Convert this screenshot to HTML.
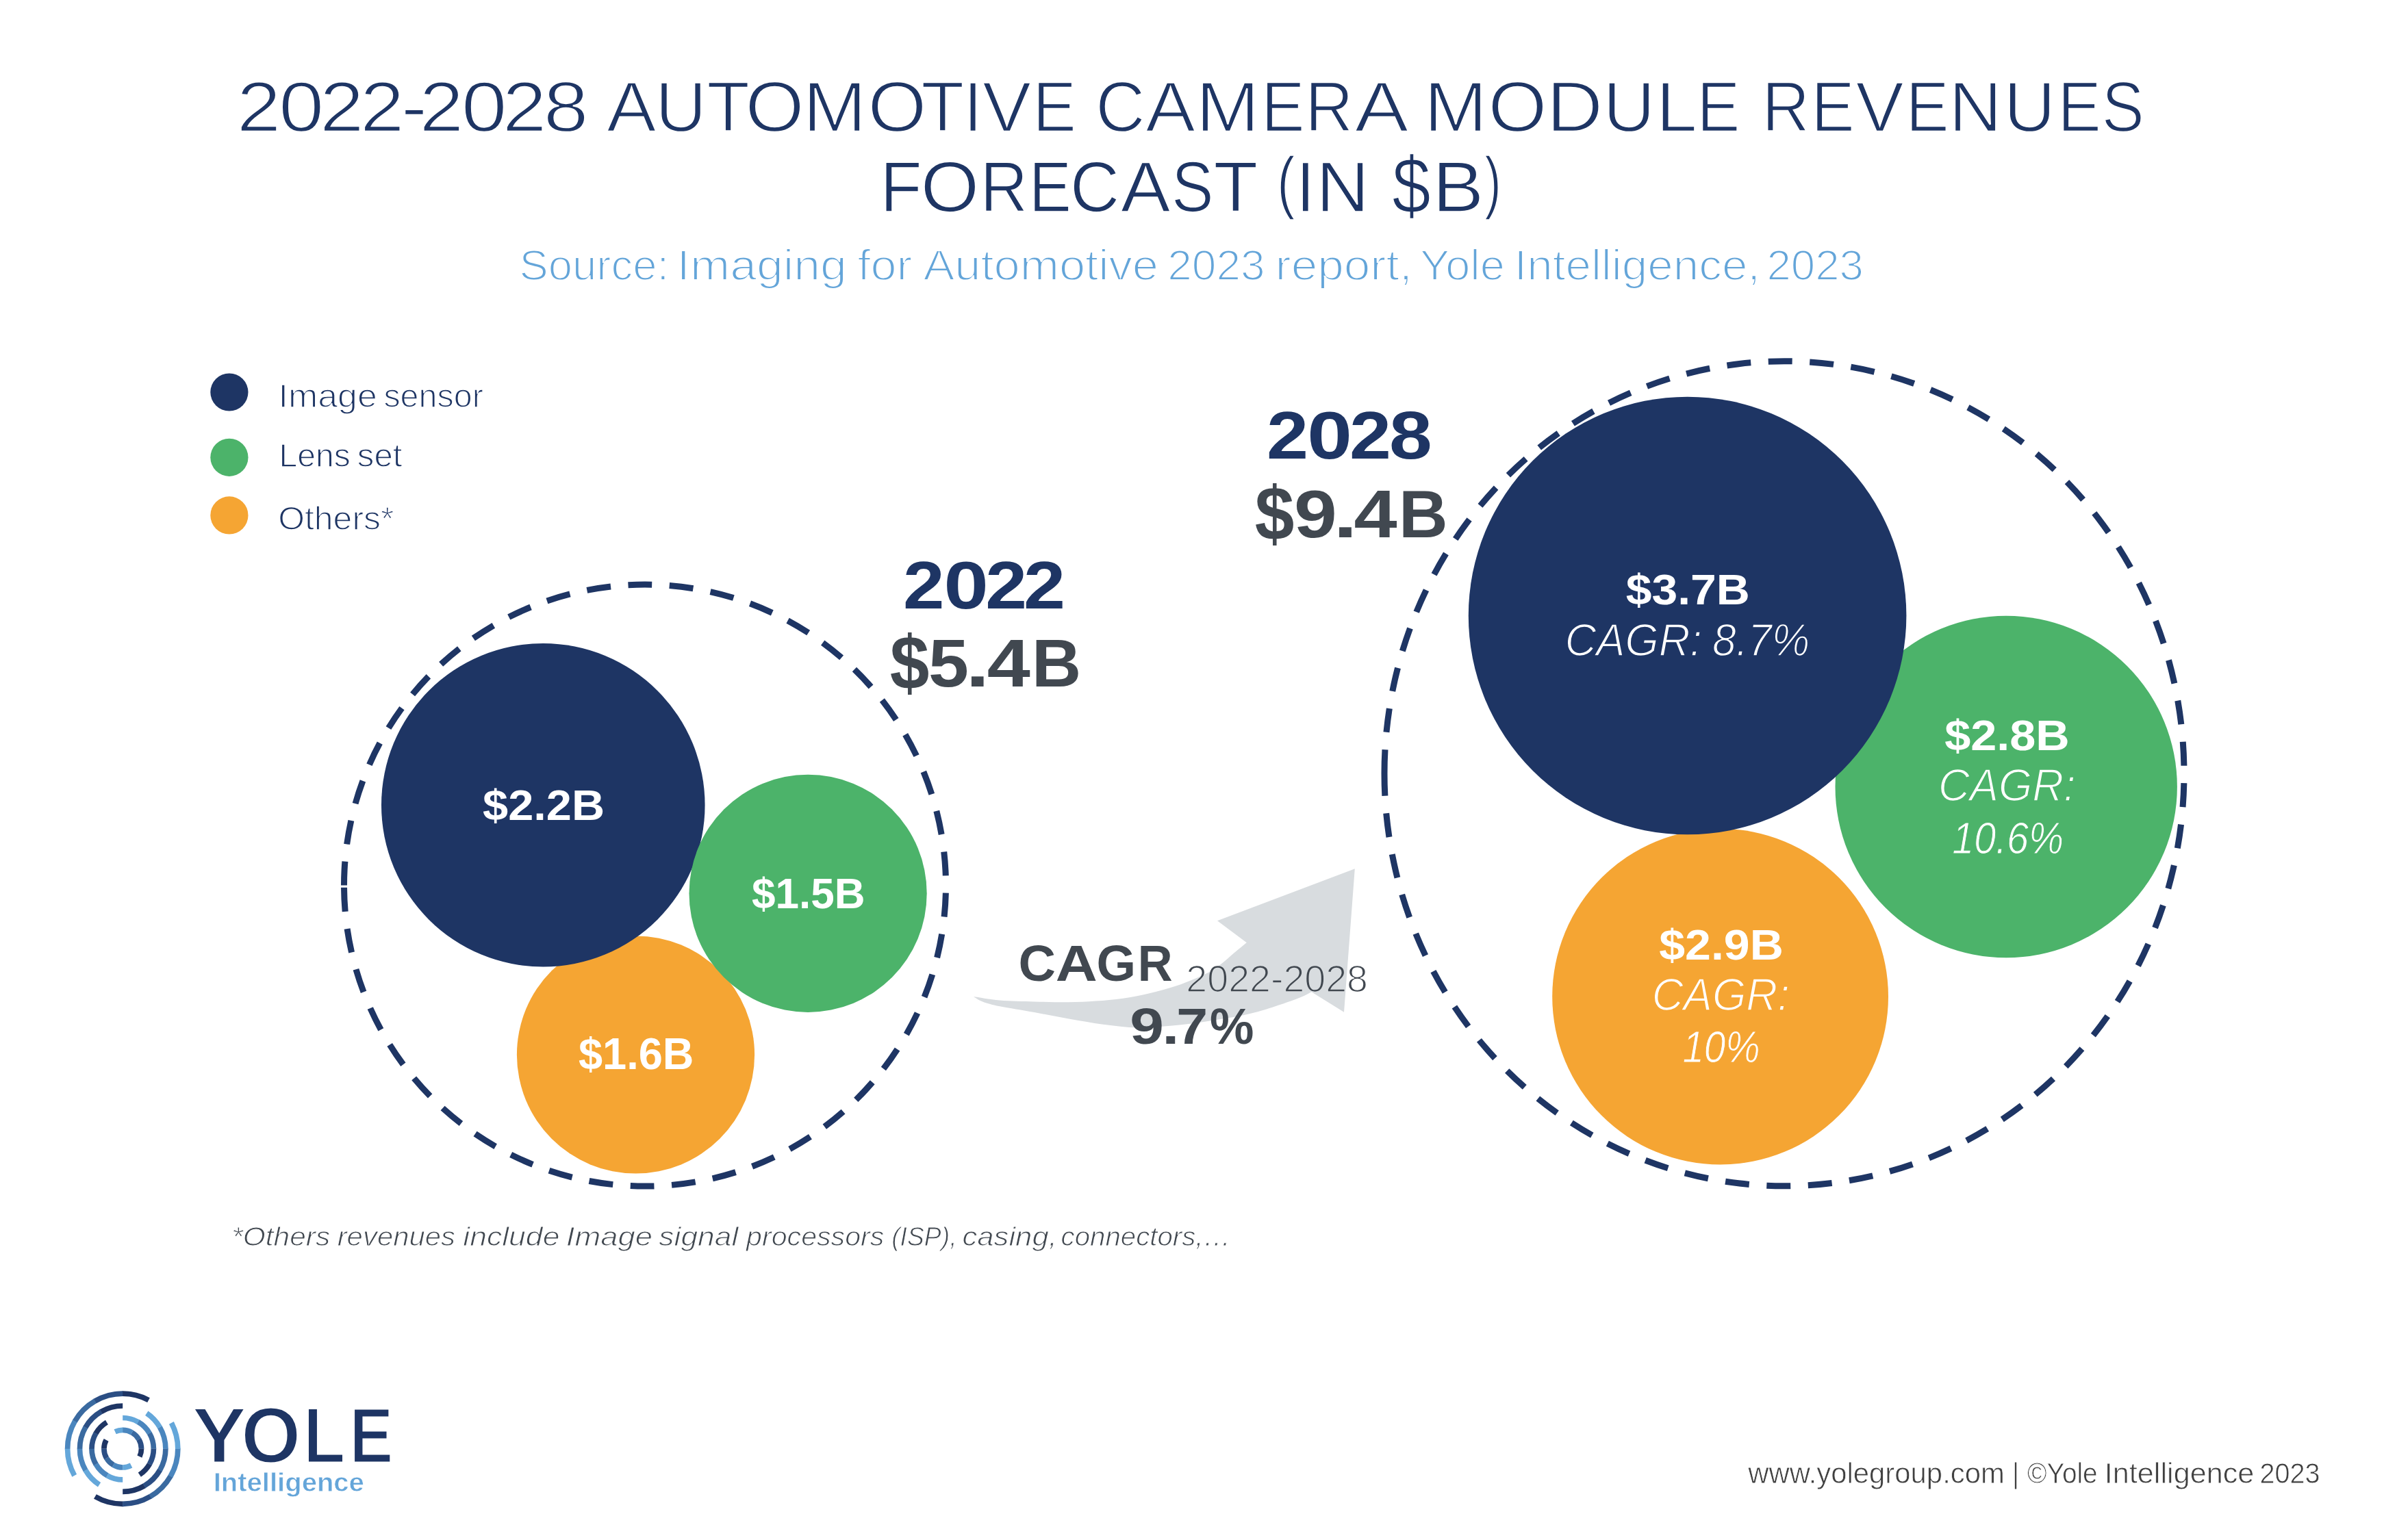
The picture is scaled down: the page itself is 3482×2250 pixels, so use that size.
<!DOCTYPE html>
<html><head><meta charset="utf-8"><title>2022-2028 Automotive Camera Module Revenues Forecast (in $B)</title>
<style>html,body{margin:0;padding:0;background:#fff;}body{width:3482px;height:2250px;font-family:"Liberation Sans",Arial,sans-serif;}svg{display:block;will-change:transform;}</style>
</head><body>
<svg width="3482" height="2250" viewBox="0 0 3482 2250" font-family="'Liberation Sans', Arial, sans-serif"><defs><g id="bg"><rect width="3482" height="2250" fill="#FFFFFF"/>
<circle cx="334.9" cy="573.0" r="27.6" fill="#1E3564"/>
<circle cx="334.9" cy="668.3" r="27.6" fill="#4CB36A"/>
<circle cx="334.9" cy="752.9" r="27.6" fill="#F5A533"/>
<circle cx="928.5" cy="1541.0" r="173.6" fill="#F5A533"/>
<circle cx="793.3" cy="1176.3" r="236.3" fill="#1E3564"/>
<circle cx="1180.1" cy="1305.3" r="173.6" fill="#4CB36A"/>
<path d="M502.50,1293.60 A439.50,439.50 0 1 1 1381.50,1293.60 A439.50,439.50 0 1 1 502.50,1293.60" fill="none" stroke="#1E3564" stroke-width="9" stroke-dasharray="35 25.5"/>
<circle cx="2512.6" cy="1456.1" r="245.4" fill="#F5A533"/>
<circle cx="2930.2" cy="1149.5" r="249.7" fill="#4CB36A"/>
<circle cx="2464.6" cy="899.5" r="319.8" fill="#1E3564"/>
<path d="M2022.00,1130.25 A584.00,602.50 0 1 1 3190.00,1130.25 A584.00,602.50 0 1 1 2022.00,1130.25" fill="none" stroke="#1E3564" stroke-width="9" stroke-dasharray="35 25.57"/>
<path d="M1421.8,1455.9 C1428.2,1456.8 1445.5,1460.2 1460.3,1461.5 C1475.1,1462.8 1494.1,1462.9 1510.7,1463.4 C1527.3,1463.9 1545.1,1464.4 1560.0,1464.3 C1574.9,1464.2 1587.0,1463.5 1600.3,1462.6 C1613.6,1461.7 1626.9,1460.6 1640.0,1458.7 C1653.1,1456.8 1665.7,1454.5 1679.0,1451.3 C1692.3,1448.1 1706.2,1444.6 1720.0,1439.8 C1733.8,1435.0 1751.2,1427.5 1761.6,1422.5 C1772.0,1417.5 1775.4,1414.6 1782.3,1409.5 C1789.2,1404.4 1796.7,1397.2 1803.1,1391.8 C1809.5,1386.4 1817.8,1379.7 1820.8,1377.3 L1778.0,1345.2 L1978.8,1269.3 L1963.0,1478.8 L1915.5,1449.2 C1911.5,1451.0 1906.2,1455.0 1891.7,1460.2 C1877.2,1465.4 1849.8,1475.0 1828.8,1480.3 C1807.8,1485.5 1785.3,1488.7 1765.8,1491.7 C1746.3,1494.8 1729.3,1497.0 1712.0,1498.6 C1694.7,1500.2 1678.5,1501.8 1661.7,1501.5 C1644.9,1501.2 1628.1,1499.0 1611.3,1496.8 C1594.5,1494.6 1577.8,1491.5 1561.0,1488.6 C1544.2,1485.6 1527.5,1482.1 1510.7,1479.1 C1493.9,1476.0 1472.9,1472.9 1460.3,1470.3 C1447.7,1467.7 1441.6,1465.8 1435.2,1463.4 C1428.8,1461.0 1424.0,1457.2 1421.8,1455.9 Z" fill="#D8DCDF"/>
<g fill="none" stroke-width="7.7"><path d="M217.04,2045.53 A80.60,80.60 0 0 0 178.78,2036.10" stroke="#1E3564"/><path d="M179.20,2036.10 A80.60,80.60 0 0 0 138.54,2047.11" stroke="#2B4E84"/><path d="M138.90,2046.90 A80.60,80.60 0 0 0 109.19,2076.77" stroke="#3A6AA0"/><path d="M109.40,2076.40 A80.60,80.60 0 0 0 98.60,2117.12" stroke="#4A86BE"/><path d="M98.60,2116.70 A80.60,80.60 0 0 0 108.71,2155.78" stroke="#64A7DA"/><path d="M138.90,2186.50 A80.60,80.60 0 0 0 179.62,2197.30" stroke="#1E3564"/><path d="M179.20,2197.30 A80.60,80.60 0 0 0 219.86,2186.29" stroke="#2B4E84"/><path d="M219.50,2186.50 A80.60,80.60 0 0 0 249.21,2156.63" stroke="#3A6AA0"/><path d="M249.00,2157.00 A80.60,80.60 0 0 0 259.80,2116.28" stroke="#4A86BE"/><path d="M259.80,2116.70 A80.60,80.60 0 0 0 250.37,2078.86" stroke="#64A7DA"/><path d="M179.20,2054.00 A62.70,62.70 0 0 0 147.57,2062.57" stroke="#1E3564"/><path d="M147.85,2062.40 A62.70,62.70 0 0 0 124.74,2085.63" stroke="#2B4E84"/><path d="M124.90,2085.35 A62.70,62.70 0 0 0 116.50,2117.03" stroke="#3A6AA0"/><path d="M116.50,2116.70 A62.70,62.70 0 0 0 125.07,2148.33" stroke="#4A86BE"/><path d="M124.90,2148.05 A62.70,62.70 0 0 0 145.05,2169.28" stroke="#64A7DA"/><path d="M179.20,2179.40 A62.70,62.70 0 0 0 210.83,2170.83" stroke="#1E3564"/><path d="M210.55,2171.00 A62.70,62.70 0 0 0 233.66,2147.77" stroke="#2B4E84"/><path d="M233.50,2148.05 A62.70,62.70 0 0 0 241.90,2116.37" stroke="#3A6AA0"/><path d="M241.90,2116.70 A62.70,62.70 0 0 0 233.33,2085.07" stroke="#4A86BE"/><path d="M233.50,2085.35 A62.70,62.70 0 0 0 214.26,2064.72" stroke="#64A7DA"/><path d="M155.92,2077.96 A45.20,45.20 0 0 0 139.94,2094.31" stroke="#1E3564"/><path d="M140.06,2094.10 A45.20,45.20 0 0 0 134.00,2116.94" stroke="#2B4E84"/><path d="M134.00,2116.70 A45.20,45.20 0 0 0 140.17,2139.50" stroke="#3A6AA0"/><path d="M140.06,2139.30 A45.20,45.20 0 0 0 156.81,2155.96" stroke="#4A86BE"/><path d="M156.60,2155.84 A45.20,45.20 0 0 0 179.20,2161.90" stroke="#64A7DA"/><path d="M203.82,2154.61 A45.20,45.20 0 0 0 218.46,2139.09" stroke="#1E3564"/><path d="M218.34,2139.30 A45.20,45.20 0 0 0 224.40,2116.46" stroke="#2B4E84"/><path d="M224.40,2116.70 A45.20,45.20 0 0 0 218.23,2093.90" stroke="#3A6AA0"/><path d="M218.34,2094.10 A45.20,45.20 0 0 0 201.59,2077.44" stroke="#4A86BE"/><path d="M201.80,2077.56 A45.20,45.20 0 0 0 179.20,2071.50" stroke="#64A7DA"/><path d="M203.94,2128.24 A27.30,27.30 0 0 0 206.50,2116.56" stroke="#1E3564"/><path d="M206.50,2116.70 A27.30,27.30 0 0 0 202.77,2102.93" stroke="#2B4E84"/><path d="M202.84,2103.05 A27.30,27.30 0 0 0 192.73,2092.99" stroke="#3A6AA0"/><path d="M192.85,2093.06 A27.30,27.30 0 0 0 179.06,2089.40" stroke="#4A86BE"/><path d="M179.20,2089.40 A27.30,27.30 0 0 0 168.10,2091.76" stroke="#64A7DA"/><path d="M155.10,2103.88 A27.30,27.30 0 0 0 151.90,2116.84" stroke="#1E3564"/><path d="M151.90,2116.70 A27.30,27.30 0 0 0 155.63,2130.47" stroke="#2B4E84"/><path d="M155.56,2130.35 A27.30,27.30 0 0 0 165.67,2140.41" stroke="#3A6AA0"/><path d="M165.55,2140.34 A27.30,27.30 0 0 0 179.34,2144.00" stroke="#4A86BE"/><path d="M179.20,2144.00 A27.30,27.30 0 0 0 191.59,2141.02" stroke="#64A7DA"/></g></g><pattern id="bgp" patternUnits="userSpaceOnUse" x="0" y="0" width="3482" height="2250"><use href="#bg"/></pattern></defs><use href="#bg"/>
<text y="192.04" font-size="104.05" fill="#1E3564" stroke="url(#bgp)" stroke-width="2.28"><tspan x="345.86" textLength="64.54" lengthAdjust="spacingAndGlyphs">2</tspan><tspan x="406.98" textLength="66.38" lengthAdjust="spacingAndGlyphs">0</tspan><tspan x="467.06" textLength="64.54" lengthAdjust="spacingAndGlyphs">2</tspan><tspan x="525.96" textLength="64.54" lengthAdjust="spacingAndGlyphs">2</tspan><tspan x="586.10" textLength="37.94" lengthAdjust="spacingAndGlyphs">-</tspan><tspan x="612.63" textLength="64.78" lengthAdjust="spacingAndGlyphs">2</tspan><tspan x="673.75" textLength="66.95" lengthAdjust="spacingAndGlyphs">0</tspan><tspan x="733.74" textLength="64.66" lengthAdjust="spacingAndGlyphs">2</tspan><tspan x="793.73" textLength="65.79" lengthAdjust="spacingAndGlyphs">8</tspan> <tspan x="886.06" textLength="72.66" lengthAdjust="spacingAndGlyphs">A</tspan><tspan x="957.33" textLength="74.56" lengthAdjust="spacingAndGlyphs">U</tspan><tspan x="1032.30" textLength="62.78" lengthAdjust="spacingAndGlyphs">T</tspan><tspan x="1088.44" textLength="85.99" lengthAdjust="spacingAndGlyphs">O</tspan><tspan x="1172.85" textLength="92.71" lengthAdjust="spacingAndGlyphs">M</tspan><tspan x="1267.45" textLength="85.77" lengthAdjust="spacingAndGlyphs">O</tspan><tspan x="1345.20" textLength="63.00" lengthAdjust="spacingAndGlyphs">T</tspan><tspan x="1407.45" textLength="27.18" lengthAdjust="spacingAndGlyphs">I</tspan><tspan x="1434.86" textLength="71.56" lengthAdjust="spacingAndGlyphs">V</tspan><tspan x="1508.45" textLength="63.40" lengthAdjust="spacingAndGlyphs">E</tspan> <tspan x="1600.15" textLength="72.31" lengthAdjust="spacingAndGlyphs">C</tspan><tspan x="1673.06" textLength="73.05" lengthAdjust="spacingAndGlyphs">A</tspan><tspan x="1746.75" textLength="92.71" lengthAdjust="spacingAndGlyphs">M</tspan><tspan x="1842.35" textLength="63.40" lengthAdjust="spacingAndGlyphs">E</tspan><tspan x="1906.17" textLength="70.27" lengthAdjust="spacingAndGlyphs">R</tspan><tspan x="1978.46" textLength="72.46" lengthAdjust="spacingAndGlyphs">A</tspan> <tspan x="2080.11" textLength="92.10" lengthAdjust="spacingAndGlyphs">M</tspan><tspan x="2173.44" textLength="85.88" lengthAdjust="spacingAndGlyphs">O</tspan><tspan x="2258.83" textLength="82.43" lengthAdjust="spacingAndGlyphs">D</tspan><tspan x="2341.52" textLength="75.68" lengthAdjust="spacingAndGlyphs">U</tspan><tspan x="2418.70" textLength="60.17" lengthAdjust="spacingAndGlyphs">L</tspan><tspan x="2478.51" textLength="62.92" lengthAdjust="spacingAndGlyphs">E</tspan> <tspan x="2573.44" textLength="69.67" lengthAdjust="spacingAndGlyphs">R</tspan><tspan x="2645.38" textLength="63.16" lengthAdjust="spacingAndGlyphs">E</tspan><tspan x="2710.36" textLength="70.66" lengthAdjust="spacingAndGlyphs">V</tspan><tspan x="2783.71" textLength="62.92" lengthAdjust="spacingAndGlyphs">E</tspan><tspan x="2846.34" textLength="77.77" lengthAdjust="spacingAndGlyphs">N</tspan><tspan x="2926.86" textLength="75.31" lengthAdjust="spacingAndGlyphs">U</tspan><tspan x="3005.45" textLength="63.40" lengthAdjust="spacingAndGlyphs">E</tspan><tspan x="3069.84" textLength="62.05" lengthAdjust="spacingAndGlyphs">S</tspan></text>
<text y="308.86" font-size="104.24" fill="#1E3564" stroke="url(#bgp)" stroke-width="1.72"><tspan x="1285.44" y="308.86" textLength="61.11" lengthAdjust="spacingAndGlyphs">F</tspan><tspan x="1344.86" y="308.86" textLength="85.24" lengthAdjust="spacingAndGlyphs">O</tspan><tspan x="1431.67" y="308.86" textLength="69.23" lengthAdjust="spacingAndGlyphs">R</tspan><tspan x="1503.02" y="308.86" textLength="61.87" lengthAdjust="spacingAndGlyphs">E</tspan><tspan x="1563.06" y="308.86" textLength="72.01" lengthAdjust="spacingAndGlyphs">C</tspan><tspan x="1637.04" y="308.86" textLength="72.39" lengthAdjust="spacingAndGlyphs">A</tspan><tspan x="1711.27" y="308.86" textLength="61.18" lengthAdjust="spacingAndGlyphs">S</tspan><tspan x="1772.48" y="308.86" textLength="62.82" lengthAdjust="spacingAndGlyphs">T</tspan> <tspan x="1865.35" y="299.57" font-size="100.44" textLength="26.05" lengthAdjust="spacingAndGlyphs">(</tspan><tspan x="1893.01" y="308.86" textLength="27.56" lengthAdjust="spacingAndGlyphs">I</tspan><tspan x="1922.59" y="308.86" textLength="77.18" lengthAdjust="spacingAndGlyphs">N</tspan> <tspan x="2033.33" y="311.35" font-size="116.36" textLength="56.37" lengthAdjust="spacingAndGlyphs">$</tspan><tspan x="2092.35" y="308.86" textLength="75.00" lengthAdjust="spacingAndGlyphs">B</tspan><tspan x="2168.54" y="299.57" font-size="100.44" textLength="24.05" lengthAdjust="spacingAndGlyphs">)</tspan></text>
<text y="408.80" font-size="62.07" fill="#64A5D9" stroke="url(#bgp)" stroke-width="2.00"><tspan x="758.46" textLength="218.61" lengthAdjust="spacingAndGlyphs">Source:</tspan> <tspan x="988.62" textLength="248.30" lengthAdjust="spacingAndGlyphs">Imaging</tspan> <tspan x="1252.62" textLength="79.67" lengthAdjust="spacingAndGlyphs">for</tspan> <tspan x="1348.40" textLength="343.59" lengthAdjust="spacingAndGlyphs">Automotive</tspan> <tspan x="1705.20" textLength="142.42" lengthAdjust="spacingAndGlyphs">2023</tspan> <tspan x="1862.54" textLength="200.46" lengthAdjust="spacingAndGlyphs">report,</tspan> <tspan x="2073.90" textLength="123.95" lengthAdjust="spacingAndGlyphs">Yole</tspan> <tspan x="2211.53" textLength="359.59" lengthAdjust="spacingAndGlyphs">Intelligence,</tspan> <tspan x="2580.42" textLength="141.59" lengthAdjust="spacingAndGlyphs">2023</tspan></text>
<text y="594.54" font-size="48.37" fill="#1E3564" stroke="url(#bgp)" stroke-width="1.48"><tspan x="406.59" textLength="144.22" lengthAdjust="spacingAndGlyphs">Image</tspan> <tspan x="560.39" textLength="145.48" lengthAdjust="spacingAndGlyphs">sensor</tspan></text>
<text y="681.66" font-size="48.14" fill="#1E3564" stroke="url(#bgp)" stroke-width="1.32"><tspan x="407.49" textLength="104.21" lengthAdjust="spacingAndGlyphs">Lens</tspan> <tspan x="521.86" textLength="65.50" lengthAdjust="spacingAndGlyphs">set</tspan></text>
<text y="774.43" font-size="48.34" fill="#1E3564" stroke="url(#bgp)" stroke-width="1.46"><tspan x="406.18" textLength="169.21" lengthAdjust="spacingAndGlyphs">Others*</tspan></text>
<text y="1198.00" font-size="63.66" fill="#FFFFFF" font-weight="700"><tspan x="705.03" textLength="178.08" lengthAdjust="spacingAndGlyphs">$2.2B</tspan></text>
<text y="1326.60" font-size="63.37" fill="#FFFFFF" font-weight="700"><tspan x="1097.98" textLength="165.64" lengthAdjust="spacingAndGlyphs">$1.5B</tspan></text>
<text y="1562.20" font-size="63.95" fill="#FFFFFF" font-weight="700"><tspan x="844.97" textLength="168.39" lengthAdjust="spacingAndGlyphs">$1.6B</tspan></text>
<text y="888.90" font-size="98.82" fill="#1E3564" font-weight="700"><tspan x="1319.04" textLength="60.50" lengthAdjust="spacingAndGlyphs">2</tspan><tspan x="1378.48" textLength="65.26" lengthAdjust="spacingAndGlyphs">0</tspan><tspan x="1439.22" textLength="60.84" lengthAdjust="spacingAndGlyphs">2</tspan><tspan x="1495.01" textLength="61.06" lengthAdjust="spacingAndGlyphs">2</tspan></text>
<text y="1002.80" font-size="98.84" fill="#414850" font-weight="700"><tspan x="1299.76" y="1007.14" font-size="110.85" textLength="57.57" lengthAdjust="spacingAndGlyphs">$</tspan><tspan x="1355.92" y="1002.80" textLength="58.95" lengthAdjust="spacingAndGlyphs">5</tspan><tspan x="1410.62" y="1002.80" textLength="34.64" lengthAdjust="spacingAndGlyphs">.</tspan><tspan x="1441.67" y="1002.80" textLength="63.10" lengthAdjust="spacingAndGlyphs">4</tspan><tspan x="1506.90" y="1002.80" textLength="72.22" lengthAdjust="spacingAndGlyphs">B</tspan></text>
<text y="669.70" font-size="98.53" fill="#1E3564" font-weight="700"><tspan x="1850.01" textLength="61.06" lengthAdjust="spacingAndGlyphs">2</tspan><tspan x="1909.16" textLength="65.60" lengthAdjust="spacingAndGlyphs">0</tspan><tspan x="1971.01" textLength="60.95" lengthAdjust="spacingAndGlyphs">2</tspan><tspan x="2029.12" textLength="62.73" lengthAdjust="spacingAndGlyphs">8</tspan></text>
<text y="785.00" font-size="99.13" fill="#414850" font-weight="700"><tspan x="1832.76" y="789.22" font-size="111.10" textLength="57.57" lengthAdjust="spacingAndGlyphs">$</tspan><tspan x="1889.91" y="785.00" textLength="62.77" lengthAdjust="spacingAndGlyphs">9</tspan><tspan x="1947.54" y="785.00" textLength="35.01" lengthAdjust="spacingAndGlyphs">.</tspan><tspan x="1977.57" y="785.00" textLength="63.10" lengthAdjust="spacingAndGlyphs">4</tspan><tspan x="2042.95" y="785.00" textLength="71.63" lengthAdjust="spacingAndGlyphs">B</tspan></text>
<text y="883.00" font-size="63.52" fill="#FFFFFF" font-weight="700"><tspan x="2374.82" textLength="181.04" lengthAdjust="spacingAndGlyphs">$3.7B</tspan></text>
<text y="957.79" font-size="66.24" fill="#FFFFFF" font-style="italic" stroke="url(#bgp)" stroke-width="1.57"><tspan x="2285.65" textLength="200.23" lengthAdjust="spacingAndGlyphs">CAGR:</tspan> <tspan x="2501.07" textLength="142.16" lengthAdjust="spacingAndGlyphs">8.7%</tspan></text>
<text y="1096.00" font-size="63.37" fill="#FFFFFF" font-weight="700"><tspan x="2840.22" textLength="182.57" lengthAdjust="spacingAndGlyphs">$2.8B</tspan></text>
<text y="1169.71" font-size="66.30" fill="#FFFFFF" font-style="italic" stroke="url(#bgp)" stroke-width="1.62"><tspan x="2831.02" textLength="200.58" lengthAdjust="spacingAndGlyphs">CAGR:</tspan></text>
<text y="1247.13" font-size="65.48" fill="#FFFFFF" font-style="italic" stroke="url(#bgp)" stroke-width="1.05"><tspan x="2851.23" textLength="162.75" lengthAdjust="spacingAndGlyphs">10.6%</tspan></text>
<text y="1402.00" font-size="63.37" fill="#FFFFFF" font-weight="700"><tspan x="2423.22" textLength="181.55" lengthAdjust="spacingAndGlyphs">$2.9B</tspan></text>
<text y="1475.72" font-size="66.33" fill="#FFFFFF" font-style="italic" stroke="url(#bgp)" stroke-width="1.63"><tspan x="2412.71" textLength="201.11" lengthAdjust="spacingAndGlyphs">CAGR:</tspan></text>
<text y="1552.29" font-size="65.38" fill="#FFFFFF" font-style="italic" stroke="url(#bgp)" stroke-width="0.98"><tspan x="2457.38" textLength="113.33" lengthAdjust="spacingAndGlyphs">10%</tspan></text>
<text y="1433.00" font-size="73.84" fill="#414850" font-weight="700"><tspan x="1487.58" textLength="54.49" lengthAdjust="spacingAndGlyphs">C</tspan><tspan x="1541.71" textLength="60.96" lengthAdjust="spacingAndGlyphs">A</tspan><tspan x="1601.64" textLength="57.54" lengthAdjust="spacingAndGlyphs">G</tspan><tspan x="1661.77" textLength="50.89" lengthAdjust="spacingAndGlyphs">R</tspan></text>
<text y="1448.74" font-size="54.97" fill="#414850" stroke="url(#bgp)" stroke-width="1.68"><tspan x="1732.38" textLength="265.57" lengthAdjust="spacingAndGlyphs">2022-2028</tspan></text>
<text y="1524.90" font-size="74.13" fill="#414850" font-weight="700"><tspan x="1650.22" textLength="49.71" lengthAdjust="spacingAndGlyphs">9</tspan><tspan x="1697.26" textLength="25.19" lengthAdjust="spacingAndGlyphs">.</tspan><tspan x="1718.30" textLength="45.88" lengthAdjust="spacingAndGlyphs">7</tspan><tspan x="1766.95" textLength="64.44" lengthAdjust="spacingAndGlyphs">%</tspan></text>
<text y="1820.41" font-size="38.82" fill="#414850" font-style="italic" stroke="url(#bgp)" stroke-width="1.01"><tspan x="338.27" textLength="143.98" lengthAdjust="spacingAndGlyphs">*Others</tspan> <tspan x="492.68" textLength="172.37" lengthAdjust="spacingAndGlyphs">revenues</tspan> <tspan x="676.25" textLength="141.17" lengthAdjust="spacingAndGlyphs">include</tspan> <tspan x="826.83" textLength="126.22" lengthAdjust="spacingAndGlyphs">Image</tspan> <tspan x="962.39" textLength="115.98" lengthAdjust="spacingAndGlyphs">signal</tspan> <tspan x="1090.13" textLength="201.20" lengthAdjust="spacingAndGlyphs">processors</tspan> <tspan x="1302.20" textLength="95.32" lengthAdjust="spacingAndGlyphs">(ISP),</tspan> <tspan x="1405.48" textLength="138.33" lengthAdjust="spacingAndGlyphs">casing,</tspan> <tspan x="1549.59" textLength="248.15" lengthAdjust="spacingAndGlyphs">connectors,…</tspan></text>
<text y="2136.62" font-size="114.15" fill="#1E3564" font-weight="700" stroke="url(#bgp)" stroke-width="2.84"><tspan x="280.18" textLength="79.97" lengthAdjust="spacingAndGlyphs">Y</tspan><tspan x="352.09" textLength="87.38" lengthAdjust="spacingAndGlyphs">O</tspan><tspan x="443.06" textLength="61.36" lengthAdjust="spacingAndGlyphs">L</tspan><tspan x="510.55" textLength="63.70" lengthAdjust="spacingAndGlyphs">E</tspan></text>
<text y="2179.18" font-size="38.90" fill="#64A5D9" font-weight="700" stroke="url(#bgp)" stroke-width="0.76"><tspan x="311.72" textLength="220.11" lengthAdjust="spacingAndGlyphs">Intelligence</tspan></text>
<text y="2167.39" font-size="41.68" fill="#404040" stroke="url(#bgp)" stroke-width="0.78"><tspan x="2553.33" textLength="374.50" lengthAdjust="spacingAndGlyphs">www.yolegroup.com</tspan> <tspan x="2938.75" textLength="10.59" lengthAdjust="spacingAndGlyphs">|</tspan> <tspan x="2961.02" textLength="102.67" lengthAdjust="spacingAndGlyphs">©Yole</tspan> <tspan x="3073.82" textLength="218.53" lengthAdjust="spacingAndGlyphs">Intelligence</tspan> <tspan x="3300.53" textLength="87.99" lengthAdjust="spacingAndGlyphs">2023</tspan></text></svg>
</body></html>
